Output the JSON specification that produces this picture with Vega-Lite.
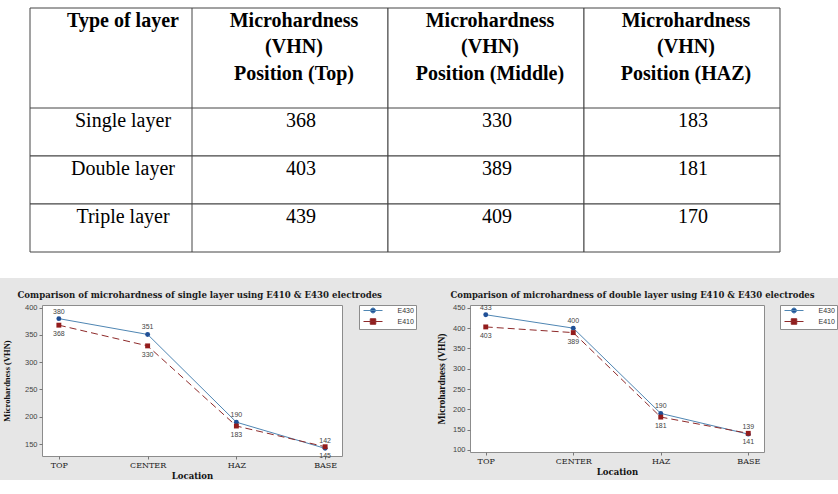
{
  "$schema": "https://vega.github.io/schema/vega-lite/v6.json",
  "background": "#e6e6e6",
  "padding": 0,
  "spacing": 12,
  "config": {"view": {"stroke": null}, "font": "Liberation Sans"},
  "datasets": {
    "tbl": [
      {"r": "header", "c": "label", "t": "Type of layer"},
      {"r": "header", "c": "Top", "t": "Microhardness\n(VHN)\nPosition (Top)"},
      {"r": "header", "c": "Middle", "t": "Microhardness\n(VHN)\nPosition (Middle)"},
      {"r": "header", "c": "HAZ", "t": "Microhardness\n(VHN)\nPosition (HAZ)"},
      {"r": "Single layer", "c": "label", "t": "Single layer"},
      {"r": "Single layer", "c": "Top", "t": "368"},
      {"r": "Single layer", "c": "Middle", "t": "330"},
      {"r": "Single layer", "c": "HAZ", "t": "183"},
      {"r": "Double layer", "c": "label", "t": "Double layer"},
      {"r": "Double layer", "c": "Top", "t": "403"},
      {"r": "Double layer", "c": "Middle", "t": "389"},
      {"r": "Double layer", "c": "HAZ", "t": "181"},
      {"r": "Triple layer", "c": "label", "t": "Triple layer"},
      {"r": "Triple layer", "c": "Top", "t": "439"},
      {"r": "Triple layer", "c": "Middle", "t": "409"},
      {"r": "Triple layer", "c": "HAZ", "t": "170"}
    ],
    "single": [
      {"loc": "TOP", "s": "E430", "v": 380},
      {"loc": "CENTER", "s": "E430", "v": 351},
      {"loc": "HAZ", "s": "E430", "v": 190},
      {"loc": "BASE", "s": "E430", "v": 142},
      {"loc": "TOP", "s": "E410", "v": 368},
      {"loc": "CENTER", "s": "E410", "v": 330},
      {"loc": "HAZ", "s": "E410", "v": 183},
      {"loc": "BASE", "s": "E410", "v": 145}
    ],
    "double": [
      {"loc": "TOP", "s": "E430", "v": 433},
      {"loc": "CENTER", "s": "E430", "v": 400},
      {"loc": "HAZ", "s": "E430", "v": 190},
      {"loc": "BASE", "s": "E430", "v": 139},
      {"loc": "TOP", "s": "E410", "v": 403},
      {"loc": "CENTER", "s": "E410", "v": 389},
      {"loc": "HAZ", "s": "E410", "v": 181},
      {"loc": "BASE", "s": "E410", "v": 141}
    ]
  },
  "vconcat": [
    {
      "spacing": 0,
      "vconcat": [
        {
          "spacing": 0,
          "hconcat": [
            {
              "width": 192, "height": 108,
              "view": {"fill": "white", "stroke": null},
              "data": {"name": "tbl"},
              "transform": [{"filter": "datum.r === 'header' && datum.c === 'label'"}],
              "encoding": {
                "x": {"field": "c", "type": "nominal", "axis": null, "scale": {"type": "band", "domain": ["label"], "paddingInner": 0, "paddingOuter": 0.0926, "align": 1}},
                "y": {"field": "r", "type": "nominal", "axis": null, "scale": {"type": "band", "domain": ["header"], "paddingInner": 0, "paddingOuter": 0.04, "align": 1}}
              },
              "layer": [
                {"mark": {"type": "rect", "fill": "white", "stroke": "#444", "strokeWidth": 1, "clip": true}},
                {"mark": {"type": "text", "font": "Liberation Serif", "fontSize": 20, "fontWeight": "bold", "baseline": "top", "align": "center", "dx": 12, "dy": 2.7, "color": "black", "clip": true},
                 "encoding": {"y": {"field": "r", "type": "nominal", "axis": null, "bandPosition": 0}, "text": {"field": "t"}}}
              ]
            },
            {
              "width": 646, "height": 108,
              "view": {"fill": "white", "stroke": null},
              "data": {"name": "tbl"},
              "transform": [{"filter": "datum.r === 'header' && datum.c !== 'label'"}],
              "encoding": {
                "x": {"field": "c", "type": "nominal", "axis": null, "scale": {"type": "band", "domain": ["Top", "Middle", "HAZ"], "paddingInner": 0, "paddingOuter": 0.148, "align": 0}},
                "y": {"field": "r", "type": "nominal", "axis": null, "scale": {"type": "band", "domain": ["header"], "paddingInner": 0, "paddingOuter": 0.04, "align": 1}}
              },
              "layer": [
                {"mark": {"type": "rect", "fill": "white", "stroke": "#444", "strokeWidth": 1, "clip": true}},
                {"mark": {"type": "text", "font": "Liberation Serif", "fontSize": 20, "fontWeight": "bold", "baseline": "top", "align": "center", "lineBreak": "\n", "lineHeight": 26.5, "dx": 4, "dy": 2.7, "color": "black", "clip": true},
                 "encoding": {"y": {"field": "r", "type": "nominal", "axis": null, "bandPosition": 0}, "text": {"field": "t"}}}
              ]
            }
          ]
        },
        {
          "spacing": 0,
          "hconcat": [
            {
              "width": 192, "height": 170,
              "view": {"fill": "white", "stroke": null},
              "data": {"name": "tbl"},
              "transform": [{"filter": "datum.r !== 'header' && datum.c === 'label'"}],
              "encoding": {
                "x": {"field": "c", "type": "nominal", "axis": null, "scale": {"type": "band", "domain": ["label"], "paddingInner": 0, "paddingOuter": 0.0926, "align": 1}},
                "y": {"field": "r", "type": "nominal", "axis": null, "scale": {"type": "band", "domain": ["Single layer", "Double layer", "Triple layer"], "paddingInner": 0, "paddingOuter": 0.2708, "align": 0}}
              },
              "layer": [
                {"mark": {"type": "rect", "fill": "white", "stroke": "#444", "strokeWidth": 1, "clip": true}},
                {"mark": {"type": "text", "font": "Liberation Serif", "fontSize": 20, "baseline": "top", "align": "center", "dx": 12, "dy": 3.2, "color": "black", "clip": true},
                 "encoding": {"y": {"field": "r", "type": "nominal", "axis": null, "bandPosition": 0}, "text": {"field": "t"}}}
              ]
            },
            {
              "width": 646, "height": 170,
              "view": {"fill": "white", "stroke": null},
              "data": {"name": "tbl"},
              "transform": [{"filter": "datum.r !== 'header' && datum.c !== 'label'"}],
              "encoding": {
                "x": {"field": "c", "type": "nominal", "axis": null, "scale": {"type": "band", "domain": ["Top", "Middle", "HAZ"], "paddingInner": 0, "paddingOuter": 0.148, "align": 0}},
                "y": {"field": "r", "type": "nominal", "axis": null, "scale": {"type": "band", "domain": ["Single layer", "Double layer", "Triple layer"], "paddingInner": 0, "paddingOuter": 0.2708, "align": 0}}
              },
              "layer": [
                {"mark": {"type": "rect", "fill": "white", "stroke": "#444", "strokeWidth": 1, "clip": true}},
                {"mark": {"type": "text", "font": "Liberation Serif", "fontSize": 20, "baseline": "top", "align": "center", "dx": 11, "dy": 3.2, "color": "black", "clip": true},
                 "encoding": {"y": {"field": "r", "type": "nominal", "axis": null, "bandPosition": 0}, "text": {"field": "t"}}}
              ]
            }
          ]
        }
      ]
    },
    {
      "spacing": 0,
      "hconcat": [
        {
          "width": 1, "height": 1,
          "data": {"values": [{"a": 0}]},
          "mark": {"type": "rect", "opacity": 0},
          "encoding": {}
        },
        {
          "spacing": 18,
          "resolve": {"scale": {"stroke": "independent"}, "legend": {"stroke": "independent"}},
          "hconcat": [
            {
              "width": 300, "height": 151,
              "view": {"fill": "white", "stroke": "#8c8c8c", "strokeWidth": 1},
              "title": {"text": "Comparison of microhardness of single layer using E410 & E430 electrodes", "anchor": "start", "frame": "bounds", "dx": 15, "offset": 4, "font": "DejaVu Serif", "fontSize": 8.6, "fontWeight": "bold", "color": "#1a1a1a"},
              "data": {"name": "single"},
              "encoding": {
                "x": {"field": "loc", "type": "nominal", "sort": ["TOP", "CENTER", "HAZ", "BASE"], "scale": {"type": "point", "padding": 0.19},
                      "axis": {"title": "Location", "labelAngle": 0, "labelFont": "DejaVu Serif", "labelFontSize": 8, "labelColor": "#222", "tickSize": 3, "tickColor": "#777", "labelPadding": 2, "domain": false, "grid": false, "titleFont": "DejaVu Serif", "titleFontSize": 8.5, "titleFontWeight": "bold", "titleColor": "#111", "titlePadding": 2}},
                "y": {"field": "v", "type": "quantitative", "scale": {"domain": [128, 405], "nice": false, "zero": false},
                      "axis": {"values": [150, 200, 250, 300, 350, 400], "title": "Microhardness (VHN)", "labelFont": "Liberation Sans", "labelFontSize": 7.5, "labelColor": "#444", "tickSize": 3, "tickColor": "#777", "labelPadding": 2, "domain": false, "grid": false, "titleFont": "Liberation Serif", "titleFontSize": 8.5, "titleFontWeight": "bold", "titleColor": "#111", "titlePadding": 13}}
              },
              "layer": [
                {"transform": [{"filter": "datum.s === 'E430'"}],
                 "mark": {"type": "line", "strokeWidth": 1},
                 "encoding": {
                   "order": {"value": null},
                   "stroke": {"field": "s", "type": "nominal", "scale": {"domain": ["E430", "E410"], "range": ["#4f86b3", "#8e2a2a"]},
                              "legend": {"title": null, "orient": "right", "offset": 17, "padding": 2, "strokeColor": "#8c8c8c", "fillColor": "white", "labelFont": "Liberation Sans", "labelFontSize": 7, "labelColor": "#333", "rowPadding": 1, "symbolSize": 25, "symbolStrokeWidth": 1, "symbolOffset": 8.5, "labelOffset": 21,
                                         "encode": {"symbols": {"update": {
                                           "shape": {"signal": "datum.value === 'E430' ? 'M-3.8,0H3.8M1,0A1,1,0,1,1,-1,0A1,1,0,1,1,1,0Z' : 'M-3.8,0H3.8M-1.1,-1.1H1.1V1.1H-1.1Z'"},
                                           "fill": {"signal": "datum.value === 'E430' ? '#1f4f96' : '#931c1c'"}}}}}}
                 }},
                {"transform": [{"filter": "datum.s === 'E410'"}],
                 "mark": {"type": "line", "strokeWidth": 1, "strokeDash": [7, 4]},
                 "encoding": {
                   "order": {"value": null},
                   "stroke": {"field": "s", "type": "nominal"}
                 }},
                {"transform": [{"filter": "datum.s === 'E430'"}],
                 "mark": {"type": "point", "shape": "circle", "filled": true, "opacity": 1, "color": "#1f4f96", "size": 24}},
                {"transform": [{"filter": "datum.s === 'E410'"}],
                 "mark": {"type": "point", "shape": "square", "filled": true, "opacity": 1, "color": "#931c1c", "size": 24}},
                {"transform": [{"filter": "datum.s === 'E430'"}],
                 "mark": {"type": "text", "font": "Liberation Sans", "fontSize": 7, "color": "#444", "dy": -7},
                 "encoding": {"text": {"field": "v", "type": "quantitative"}}},
                {"transform": [{"filter": "datum.s === 'E410'"}],
                 "mark": {"type": "text", "font": "Liberation Sans", "fontSize": 7, "color": "#444", "dy": 9},
                 "encoding": {"text": {"field": "v", "type": "quantitative"}}}
              ]
            },
            {
              "width": 294, "height": 147,
              "view": {"fill": "white", "stroke": "#8c8c8c", "strokeWidth": 1},
              "title": {"text": "Comparison of microhardness of double layer using E410 & E430 electrodes", "anchor": "start", "frame": "bounds", "dx": 14, "offset": 4, "font": "DejaVu Serif", "fontSize": 8.5, "fontWeight": "bold", "color": "#1a1a1a"},
              "data": {"name": "double"},
              "encoding": {
                "x": {"field": "loc", "type": "nominal", "sort": ["TOP", "CENTER", "HAZ", "BASE"], "scale": {"type": "point", "padding": 0.18},
                      "axis": {"title": "Location", "labelAngle": 0, "labelFont": "DejaVu Serif", "labelFontSize": 8, "labelColor": "#222", "tickSize": 3, "tickColor": "#777", "labelPadding": 2, "domain": false, "grid": false, "titleFont": "DejaVu Serif", "titleFontSize": 8.5, "titleFontWeight": "bold", "titleColor": "#111", "titlePadding": 2}},
                "y": {"field": "v", "type": "quantitative", "scale": {"domain": [95, 457], "nice": false, "zero": false},
                      "axis": {"values": [100, 150, 200, 250, 300, 350, 400, 450], "title": "Microhardness (VHN)", "labelFont": "Liberation Sans", "labelFontSize": 7.5, "labelColor": "#444", "tickSize": 3, "tickColor": "#777", "labelPadding": 2, "domain": false, "grid": false, "titleFont": "Liberation Serif", "titleFontSize": 9.5, "titleFontWeight": "bold", "titleColor": "#111", "titlePadding": 6}}
              },
              "layer": [
                {"transform": [{"filter": "datum.s === 'E430'"}],
                 "mark": {"type": "line", "strokeWidth": 1},
                 "encoding": {
                   "order": {"value": null},
                   "stroke": {"field": "s", "type": "nominal", "scale": {"domain": ["E430", "E410"], "range": ["#4f86b3", "#8e2a2a"]},
                              "legend": {"title": null, "orient": "right", "offset": 16, "padding": 2, "strokeColor": "#8c8c8c", "fillColor": "white", "labelFont": "Liberation Sans", "labelFontSize": 7, "labelColor": "#333", "rowPadding": 1, "symbolSize": 25, "symbolStrokeWidth": 1, "symbolOffset": 8.5, "labelOffset": 21,
                                         "encode": {"symbols": {"update": {
                                           "shape": {"signal": "datum.value === 'E430' ? 'M-3.8,0H3.8M1,0A1,1,0,1,1,-1,0A1,1,0,1,1,1,0Z' : 'M-3.8,0H3.8M-1.1,-1.1H1.1V1.1H-1.1Z'"},
                                           "fill": {"signal": "datum.value === 'E430' ? '#1f4f96' : '#931c1c'"}}}}}}
                 }},
                {"transform": [{"filter": "datum.s === 'E410'"}],
                 "mark": {"type": "line", "strokeWidth": 1, "strokeDash": [7, 4]},
                 "encoding": {
                   "order": {"value": null},
                   "stroke": {"field": "s", "type": "nominal"}
                 }},
                {"transform": [{"filter": "datum.s === 'E430'"}],
                 "mark": {"type": "point", "shape": "circle", "filled": true, "opacity": 1, "color": "#1f4f96", "size": 24}},
                {"transform": [{"filter": "datum.s === 'E410'"}],
                 "mark": {"type": "point", "shape": "square", "filled": true, "opacity": 1, "color": "#931c1c", "size": 24}},
                {"transform": [{"filter": "datum.s === 'E430'"}],
                 "mark": {"type": "text", "font": "Liberation Sans", "fontSize": 7, "color": "#444", "dy": -7},
                 "encoding": {"text": {"field": "v", "type": "quantitative"}}},
                {"transform": [{"filter": "datum.s === 'E410'"}],
                 "mark": {"type": "text", "font": "Liberation Sans", "fontSize": 7, "color": "#444", "dy": 9},
                 "encoding": {"text": {"field": "v", "type": "quantitative"}}}
              ]
            }
          ]
        }
      ]
    }
  ]
}
